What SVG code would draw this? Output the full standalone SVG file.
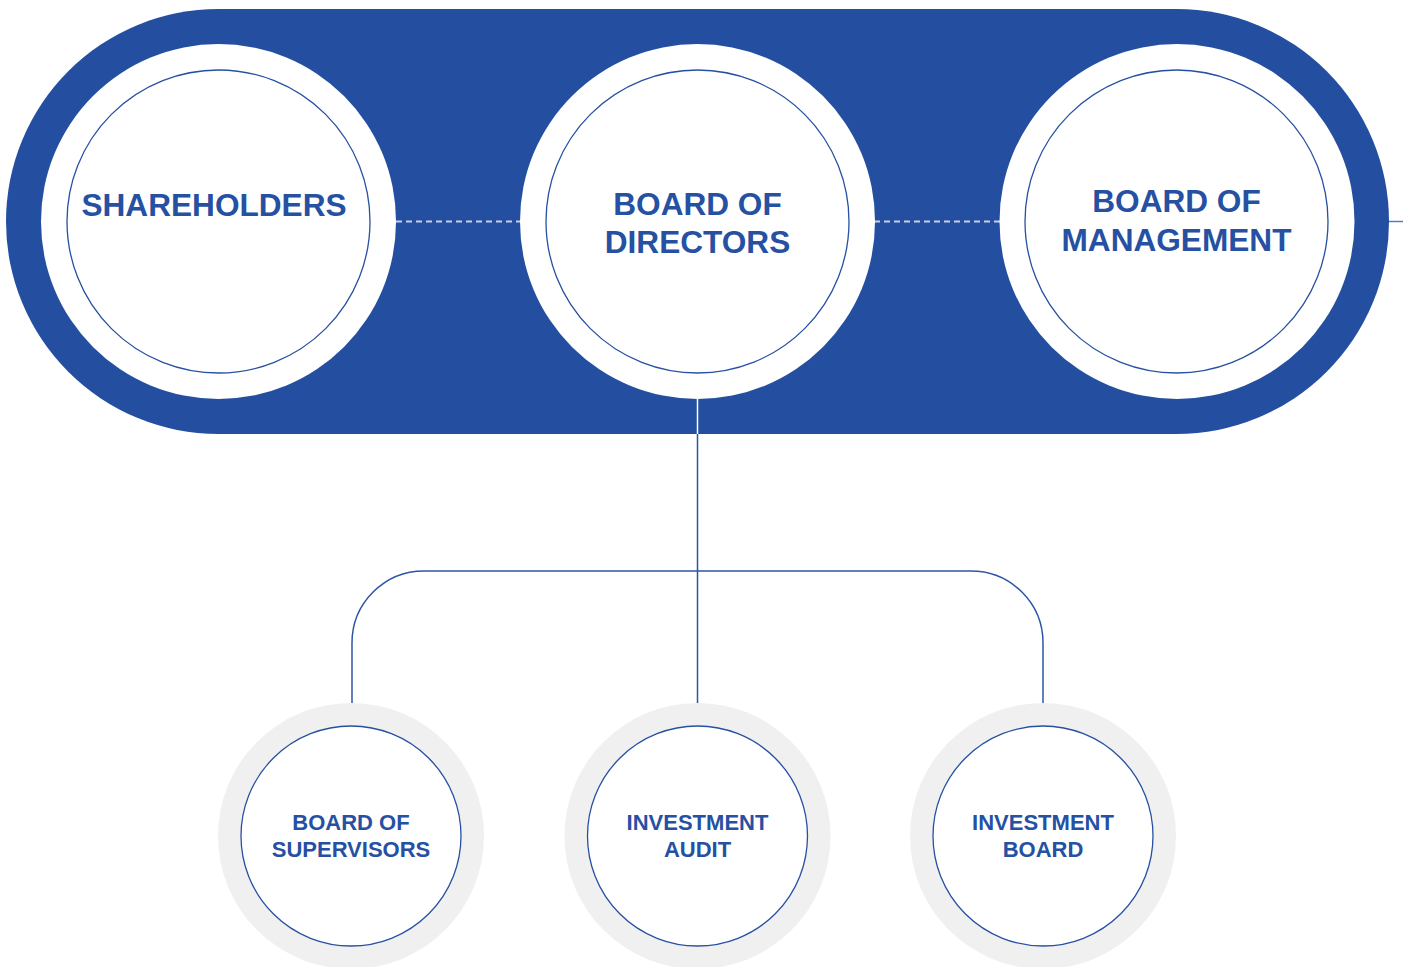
<svg xmlns="http://www.w3.org/2000/svg" width="1403" height="967" viewBox="0 0 1403 967">
<style>
.t{font-family:"Liberation Sans",Arial,sans-serif;font-weight:bold;fill:#2650a2;text-anchor:middle}
.big{font-size:31.6px}
.small{font-size:22px}
.ring{fill:#ffffff}
.inner{fill:#ffffff;stroke:#2650a2;stroke-width:1.3}
.gray{fill:#f0f0f0}
.conn{fill:none;stroke:#2d55a5;stroke-width:1.5}
.dash{stroke:#c6d0e8;stroke-width:2;stroke-dasharray:6 4}
</style>
<rect x="0" y="0" width="1403" height="967" fill="#ffffff"/>
<rect id="band" x="6" y="9" width="1383" height="425" rx="212.5" ry="212.5" fill="#244fa1"/>
<g id="connectors">
<line class="dash" x1="396" y1="221.5" x2="521" y2="221.5"/>
<line class="dash" x1="874" y1="221.5" x2="1000" y2="221.5"/>
<line x1="1389" y1="221.5" x2="1403" y2="221.5" stroke="#5a7dc0" stroke-width="1.5"/>
<line x1="697.5" y1="398" x2="697.5" y2="434" stroke="#ffffff" stroke-width="1.5"/>
<line class="conn" x1="697.5" y1="434" x2="697.5" y2="726"/>
<path class="conn" d="M352 726 V643 A72 72 0 0 1 424 571 H971 A72 72 0 0 1 1043 643 V726"/>
</g>
<g id="shareholders">
<circle class="ring" cx="218.5" cy="221.5" r="177.5"/>
<circle class="inner" cx="218.5" cy="221.5" r="151.5"/>
<text class="t big" x="214" y="216">SHAREHOLDERS</text>
</g>
<g id="board-of-directors">
<circle class="ring" cx="697.5" cy="221.5" r="177.5"/>
<circle class="inner" cx="697.5" cy="221.5" r="151.5"/>
<text class="t big" x="697.5" y="215">BOARD OF</text>
<text class="t big" x="697.5" y="253">DIRECTORS</text>
</g>
<g id="board-of-management">
<circle class="ring" cx="1177" cy="221.5" r="177.5"/>
<circle class="inner" cx="1176.5" cy="221.5" r="151.5"/>
<text class="t big" x="1176.5" y="212">BOARD OF</text>
<text class="t big" x="1176.5" y="251">MANAGEMENT</text>
</g>
<g id="board-of-supervisors">
<circle class="gray" cx="351" cy="836" r="133"/>
<circle class="inner" cx="351" cy="836" r="110"/>
<text class="t small" x="351" y="830">BOARD OF</text>
<text class="t small" x="351" y="857">SUPERVISORS</text>
</g>
<g id="investment-audit">
<circle class="gray" cx="697.5" cy="836" r="133"/>
<circle class="inner" cx="697.5" cy="836" r="110"/>
<text class="t small" x="697.5" y="830">INVESTMENT</text>
<text class="t small" x="697.5" y="857">AUDIT</text>
</g>
<g id="investment-board">
<circle class="gray" cx="1043" cy="836" r="133"/>
<circle class="inner" cx="1043" cy="836" r="110"/>
<text class="t small" x="1043" y="830">INVESTMENT</text>
<text class="t small" x="1043" y="857">BOARD</text>
</g>
</svg>
